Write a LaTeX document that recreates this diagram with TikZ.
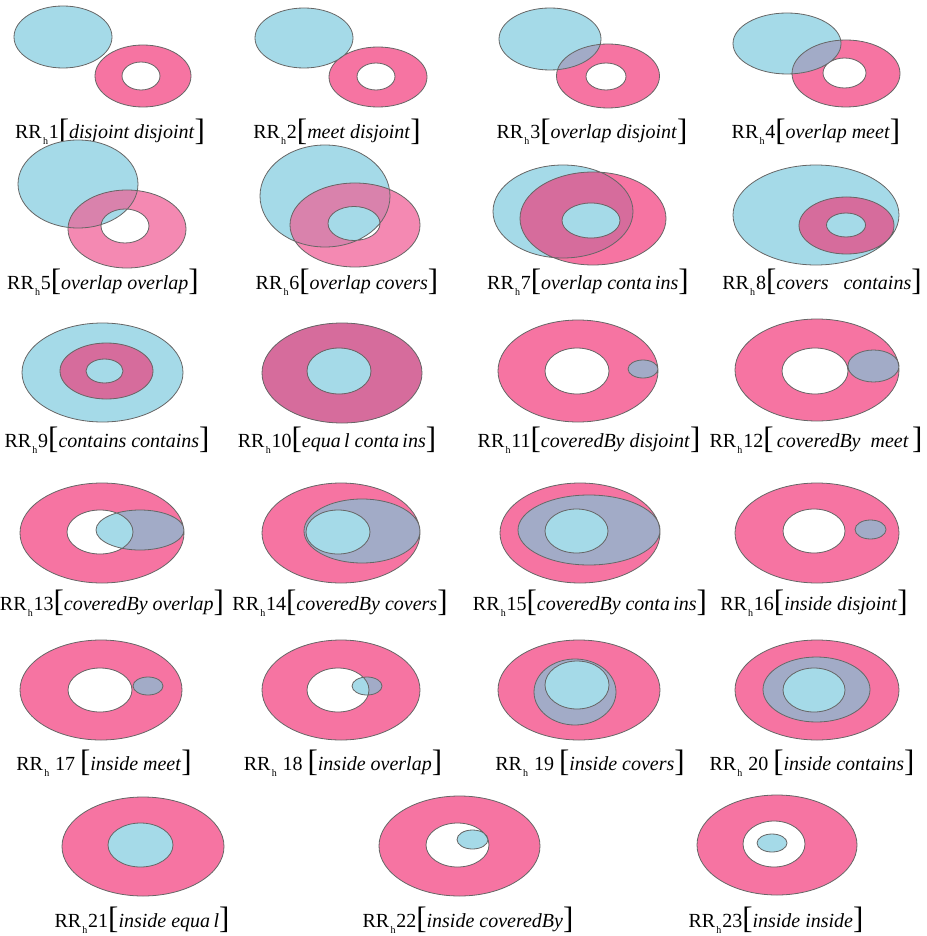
\documentclass[tikz,border=0pt]{standalone}
\usepackage{fontspec}
\setmainfont{Liberation Serif}
\definecolor{ringpink}{HTML}{F674A2}
\definecolor{ringlite}{HTML}{F489B2}
\definecolor{regblue}{HTML}{A5DAE8}
\definecolor{mauve}{HTML}{D66C9C}
\definecolor{mauvelite}{HTML}{D982AC}
\definecolor{greyblue}{HTML}{A2ABC7}

\newcommand{\el}[4]{(#1,#2) ellipse [x radius=#3, y radius=#4]}
% blue region drawn above the ring
\newcommand{\bluetop}[3]{%
  \fill[ringpink, even odd rule] #2 #3;
  \fill[regblue] #1;
  \begin{scope} \clip #1; \fill[greyblue, even odd rule] #2 #3; \end{scope}
  \draw[edge] #2 #3 #1;}
% ring drawn above the blue region
\newcommand{\pinktop}[5]{%
  \fill[regblue] #1;
  \fill[#4, even odd rule] #2 #3;
  \begin{scope} \clip #1; \fill[#5, even odd rule] #2 #3; \end{scope}
  \draw[edge] #1 #2 #3;}
\newcommand{\rr}{RR\kern.6pt\raisebox{-3pt}{\fontsize{5}{5}\selectfont h}\kern.4pt}
\newcommand{\lbr}{\raisebox{-.8pt}{\fontsize{15.5}{15.5}\selectfont[}}
\newcommand{\rbr}{\raisebox{-.8pt}{\fontsize{15.5}{15.5}\selectfont]}}

\begin{document}
\begin{tikzpicture}[x=0.5pt, y=-0.5pt,
    edge/.style={draw=black!60, line width=.4pt},
    lab/.style={anchor=base, inner sep=0pt, font=\fontsize{10}{12}\selectfont}]
  \useasboundingbox (0,0) rectangle (926,936);
  % row 1
  \bluetop{\el{63}{37}{49}{31}}{\el{143}{76}{48}{31}}{\el{141}{76}{19}{14}}
  \bluetop{\el{304}{38}{49}{30}}{\el{378}{77}{49}{30}}{\el{376}{76.5}{19}{13.5}}
  \bluetop{\el{550}{39}{51}{31}}{\el{608}{76}{51.5}{32}}{\el{606}{76.5}{20}{13.5}}
  \bluetop{\el{787}{43.5}{54}{30.5}}{\el{846}{73.5}{54}{33.5}}{\el{844.5}{73}{21.5}{15}}
  \node[lab] (rr1) at (110,139) {\rr1\lbr\textit{disjoint disjoint}\rbr};
  \node[lab] (rr2) at (337,139) {\rr2\lbr\textit{meet disjoint}\rbr};
  \node[lab] (rr3) at (592,139) {\rr3\lbr\textit{overlap disjoint}\rbr};
  \node[lab] (rr4) at (816,139) {\rr4\lbr\textit{overlap meet}\rbr};
  % row 2
  \pinktop{\el{78}{184}{60}{44}}{\el{127}{229}{59}{39}}{\el{125}{226}{24}{17}}{ringlite}{mauvelite}
  \pinktop{\el{325}{196}{65}{51}}{\el{355}{225}{65}{42}}{\el{354}{223.5}{26}{17}}{ringlite}{mauvelite}
  \pinktop{\el{563}{211.5}{70}{46.5}}{\el{593}{218.5}{73}{46.5}}{\el{591}{220.5}{29}{17.5}}{ringpink}{mauve}
  \pinktop{\el{816}{215}{83}{50}}{\el{846.5}{225.5}{47.5}{28.5}}{\el{846}{225}{19.5}{12}}{ringpink}{mauve}
  \node[lab] (rr5) at (103,289) {\rr5\lbr\textit{overlap overlap}\rbr};
  \node[lab] (rr6) at (347,289) {\rr6\lbr\textit{overlap covers}\rbr};
  \node[lab] (rr7) at (588,289) {\rr7\lbr\textit{overlap conta\,ins}\rbr};
  \node[lab] (rr8) at (822,289) {\rr8\lbr\textit{covers\enspace\ contains}\rbr};
  % row 3
  \pinktop{\el{102.5}{372.5}{80.5}{49.5}}{\el{106.5}{371}{46.5}{28}}{\el{104.5}{371}{18.5}{12}}{ringpink}{mauve}
  \pinktop{\el{342}{373}{80}{50}}{\el{342}{373}{80}{50}}{\el{339}{371}{32}{23}}{ringpink}{mauve}
  \bluetop{\el{643}{369}{15}{9}}{\el{578}{371}{80}{51}}{\el{577}{371}{32}{23}}
  \bluetop{\el{873.5}{366}{25.5}{16}}{\el{817}{370}{82}{51}}{\el{815}{371}{33}{23}}
  \node[lab] (rr9) at (107,447) {\rr9\lbr\textit{contains contains}\rbr};
  \node[lab] (rr10) at (337,447) {\rr10\lbr\textit{equa\,l conta\,ins}\rbr};
  \node[lab] (rr11) at (589,447) {\rr11\lbr\textit{coveredBy disjoint}\rbr};
  \node[lab] (rr12) at (816,447) {\rr12\lbr\,\textit{coveredBy\ \ meet}\,\rbr};
  % row 4
  \bluetop{\el{140}{530}{44}{20}}{\el{102}{533}{82}{50}}{\el{100}{532}{33}{22}}
  \bluetop{\el{362}{531}{58}{32}}{\el{341}{533}{79}{50}}{\el{338}{532}{32}{22}}
  \bluetop{\el{589}{530}{71}{35}}{\el{580}{533}{80}{50}}{\el{576.5}{531}{31.5}{22}}
  \bluetop{\el{870.5}{529.5}{15.5}{9.5}}{\el{817}{533}{82}{50}}{\el{814}{531}{31}{22}}
  \node[lab] (rr13) at (112,610) {\rr13\lbr\textit{coveredBy overlap}\rbr};
  \node[lab] (rr14) at (340,610) {\rr14\lbr\textit{coveredBy covers}\rbr};
  \node[lab] (rr15) at (590,610) {\rr15\lbr\textit{coveredBy conta\,ins}\rbr};
  \node[lab] (rr16) at (814,610) {\rr16\lbr\textit{inside disjoint}\rbr};
  % row 5
  \bluetop{\el{148}{686}{15}{9}}{\el{101}{690}{81}{50}}{\el{100}{690}{32}{22}}
  \bluetop{\el{367}{686}{15}{9}}{\el{341}{690}{79}{50}}{\el{338}{690}{31}{22}}
  \bluetop{\el{575}{692}{41}{33}}{\el{579}{690}{81}{50}}{\el{577}{685}{32}{24}}
  \bluetop{\el{816.5}{689.5}{53.5}{32.5}}{\el{817}{690}{82}{50}}{\el{814}{690}{31}{22}}
  \node[lab] (rr17) at (104,770) {\rr\ 17 \lbr\textit{inside meet}\rbr};
  \node[lab] (rr18) at (343,770) {\rr\ 18 \lbr\textit{inside overlap}\rbr};
  \node[lab] (rr19) at (590,770) {\rr\ 19 \lbr\textit{inside covers}\rbr};
  \node[lab] (rr20) at (812,770) {\rr\ 20 \lbr\textit{inside contains}\rbr};
  % row 6
  \bluetop{\el{140.5}{845}{32.5}{22}}{\el{143}{846.5}{81}{49.5}}{\el{140.5}{845}{32.5}{22}}
  \bluetop{\el{472.5}{839.5}{15.5}{9.5}}{\el{459.5}{846}{80.5}{50}}{\el{457.5}{845}{31.5}{22}}
  \bluetop{\el{772}{843}{15}{9}}{\el{777}{845}{80}{50}}{\el{774}{844}{31}{23}}
  \node[lab] (rr21) at (142,927) {\rr21\lbr\textit{inside equa\,l}\rbr};
  \node[lab] (rr22) at (468,927) {\rr22\lbr\textit{inside coveredBy}\rbr};
  \node[lab] (rr23) at (776,927) {\rr23\lbr\textit{inside inside}\rbr};
\end{tikzpicture}
\end{document}
